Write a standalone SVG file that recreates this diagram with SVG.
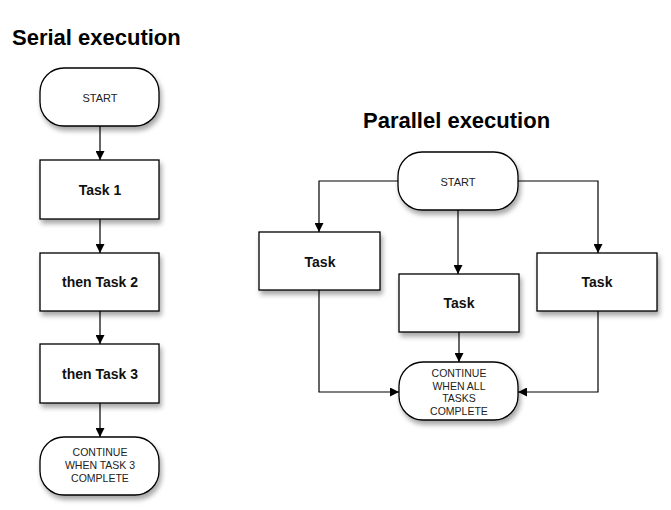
<svg xmlns="http://www.w3.org/2000/svg" width="671" height="510" viewBox="0 0 671 510">
<defs>
<filter id="sh" x="-20%" y="-20%" width="150%" height="160%">
<feDropShadow dx="2" dy="4" stdDeviation="2.5" flood-color="#000" flood-opacity="0.35"/>
</filter>
<marker id="ah" viewBox="0 0 10 10" refX="10" refY="5" markerWidth="9" markerHeight="9" markerUnits="userSpaceOnUse" orient="auto">
<path d="M0,0 L10,5 L0,10 Z" fill="#000"/>
</marker>
<style>
.box{fill:#fff;stroke:#000;stroke-width:1.3;filter:url(#sh)}
.title{font-family:"Liberation Sans",Arial,sans-serif;font-weight:bold;font-size:22px;fill:#000}
.tl{font-family:"Liberation Sans",Arial,sans-serif;font-weight:bold;font-size:14px;fill:#111;text-anchor:middle}
.sm{font-family:"Liberation Sans",Arial,sans-serif;font-size:10.5px;fill:#222;text-anchor:middle}
.st{font-size:11px}
.cn{fill:none;stroke:#000;stroke-width:1.2;marker-end:url(#ah)}
</style>
</defs>
<rect width="671" height="510" fill="#fff"/>
<text class="title" x="12" y="45">Serial execution</text>
<text class="title" x="363" y="128">Parallel execution</text>
<g id="connectors">
<path class="cn" d="M100,126 V160"/>
<path class="cn" d="M100,219 V253"/>
<path class="cn" d="M100,311 V344"/>
<path class="cn" d="M100,403 V437"/>
<path class="cn" d="M398,181 H319 V232"/>
<path class="cn" d="M518,181 H598 V253"/>
<path class="cn" d="M458,210 V274"/>
<path class="cn" d="M459,332 V362"/>
<path class="cn" d="M319,290 V392 H399"/>
<path class="cn" d="M598,311 V392 H518"/>
</g>
<g id="s-start"><rect class="box" x="40" y="68" width="119" height="58" rx="24"/><text class="sm st" x="100" y="102">START</text></g>
<g id="s-task1"><rect class="box" x="40" y="160" width="119" height="59"/><text class="tl" x="100" y="195">Task 1</text></g>
<g id="s-task2"><rect class="box" x="40" y="253" width="119" height="58"/><text class="tl" x="100" y="287">then Task 2</text></g>
<g id="s-task3"><rect class="box" x="40" y="344" width="119" height="59"/><text class="tl" x="100" y="379">then Task 3</text></g>
<g id="s-cont"><rect class="box" x="40" y="437" width="119" height="58" rx="24"/><text class="sm" x="100" y="456">CONTINUE</text><text class="sm" x="100" y="469">WHEN TASK 3</text><text class="sm" x="100" y="482">COMPLETE</text></g>
<g id="p-start"><rect class="box" x="398" y="152" width="120" height="58" rx="24"/><text class="sm st" x="458" y="186">START</text></g>
<g id="p-task-l"><rect class="box" x="259" y="232" width="121" height="58"/><text class="tl" x="320" y="267">Task</text></g>
<g id="p-task-m"><rect class="box" x="399" y="274" width="120" height="58"/><text class="tl" x="459" y="308">Task</text></g>
<g id="p-task-r"><rect class="box" x="537" y="253" width="120" height="58"/><text class="tl" x="597" y="287">Task</text></g>
<g id="p-cont"><rect class="box" x="399" y="362" width="119" height="58" rx="24"/><text class="sm" x="459" y="377">CONTINUE</text><text class="sm" x="459" y="389.5">WHEN ALL</text><text class="sm" x="459" y="402">TASKS</text><text class="sm" x="459" y="414.5">COMPLETE</text></g>
</svg>
